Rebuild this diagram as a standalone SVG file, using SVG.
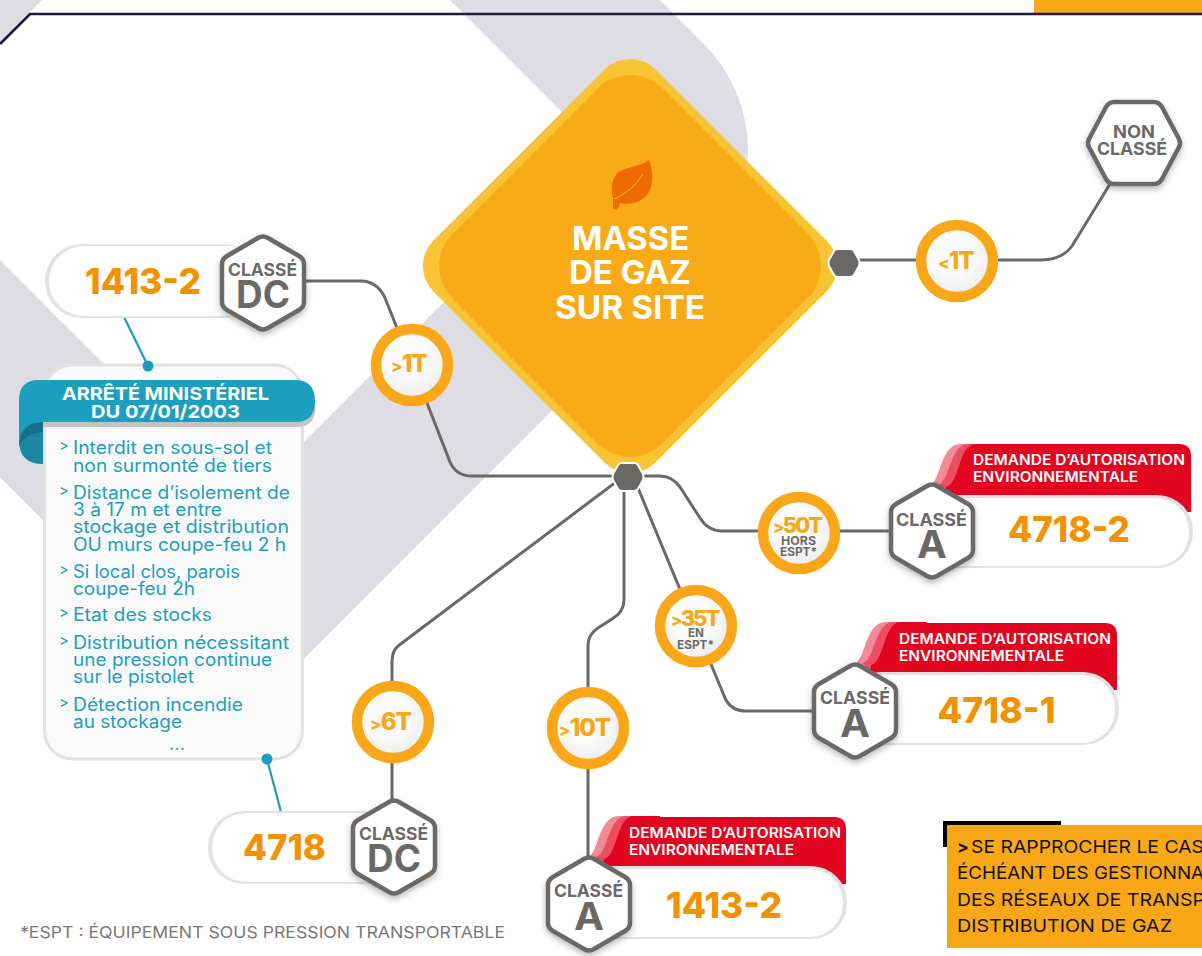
<svg xmlns="http://www.w3.org/2000/svg" width="1202" height="956" viewBox="0 0 1202 956">
<style>
text{font-family:"Inter","Open Sans","Liberation Sans",sans-serif;}
.b{font-weight:700}
.wire{fill:none;stroke:#6b6967;stroke-width:3;stroke-linecap:round;stroke-linejoin:round}
.blue{fill:none;stroke:#1a9dbb;stroke-width:2.2}
.hx{fill:#fff;stroke:#6b6967;stroke-width:4.5;filter:url(#sh)}
.cl{fill:#6b6967;font-weight:700;font-size:17.5px}
.big{fill:#6b6967;font-weight:700;font-size:38px}
.num{fill:#f39200;font-weight:800;font-size:36px}
.ring{fill:url(#disc);stroke:#f9a618;stroke-width:10.5}
.t{fill:#f9a618;font-weight:800;font-size:24px;letter-spacing:-1px}
.t2{fill:#f9a618;font-weight:800;font-size:22px;letter-spacing:-2px}
.gt{font-size:17px}
.s{fill:#6b6967;font-weight:700;font-size:11.5px}
.red{fill:#e30520}
.rt{fill:#fff;font-weight:600;font-size:14px}
.pg{fill:#e2e2e2}
.pw{fill:#fff}
.li{fill:#1c9fbe;font-size:18px;font-weight:400}
.ch{fill:#1c9fbe;font-size:15px;font-weight:400}
.hub{fill:#6b6967;stroke:#fff;stroke-width:2}
.note{fill:#111;font-size:17.5px}
</style>
<defs>
<filter id="sh" x="-30%" y="-30%" width="160%" height="160%"><feDropShadow dx="0" dy="3" stdDeviation="3" flood-color="#000" flood-opacity="0.28"/></filter>
<radialGradient id="disc" cx="0.45" cy="0.4" r="0.7"><stop offset="0.4" stop-color="#fbfbfb"/><stop offset="1" stop-color="#e6e6e6"/></radialGradient>
<path id="hexv" d="M-5 -45Q0 -48 5 -45L36 -27Q41 -24 41 -19L41 19Q41 24 36 27L5 45Q0 48 -5 45L-36 27Q-41 24 -41 19L-41 -19Q-41 -24 -36 -27Z"/>
<path id="hexh" d="M-20 -41L20 -41Q25 -41 28 -36L45 -4Q47 0 45 4L28 36Q25 41 20 41L-20 41Q-25 41 -28 36L-45 4Q-47 0 -45 -4L-28 -36Q-25 -41 -20 -41Z"/>
<path id="hub" d="M-6 -14L6 -14Q9 -14 10 -12L15 -3Q16 0 15 3L10 12Q9 14 6 14L-6 14Q-9 14 -10 12L-15 3Q-16 0 -15 -3L-10 -12Q-9 -14 -6 -14Z"/>
<g id="fold">
<path fill="#f28b97" d="M0 0C8 -6 10 -40 28 -40H70V11H13Z"/>
<path fill="#ee4d5f" d="M6 1C18 -2 18 -40 36 -40H70V11H13Z"/>
<path class="red" d="M14 3C28 0 26 -40 44 -40H70V11H13Z"/>
</g>
</defs>

<g id="background">
<rect width="1202" height="956" fill="#fff"/>
<path fill="#dfdde4" d="M0 260L243 503L598 148L450 0H660L703.500 43.500A152 152 0 0 1 703.500 258.500L285 678Q243 720 201 678L0 477Z"/>
<path fill="#dfdde4" d="M0 0H42L0 42Z"/>
<rect x="1034" y="0" width="168" height="13" fill="#f9a818"/>
<path d="M0 44L30 14H1202" fill="none" stroke="#1d1a3f" stroke-width="2.700"/>
</g>

<g id="node-masse">
<rect x="473" y="109" width="314" height="314" rx="36" fill="#f9c433" transform="rotate(45 630 266)"/>
<rect x="481.500" y="117.500" width="297" height="297" rx="46" fill="#f9ab17" transform="rotate(45 630 266)"/>
<path fill="#ee6a00" d="M649 160C643 166 628 166 619 172C612 177 610 188 613 198L613 209L617 210L620 203C630 206 643 202 649 192C654 184 653 170 649 160Z"/>
<path fill="none" stroke="#f9ab17" stroke-width="1.200" d="M614 199C628 193 637 184 643 174"/>
<text class="b" x="572" y="250" font-size="33" fill="#fff" textLength="117" lengthAdjust="spacingAndGlyphs">MASSE</text>
<text class="b" x="569" y="284" font-size="33" fill="#fff" textLength="122" lengthAdjust="spacingAndGlyphs">DE GAZ</text>
<text class="b" x="555" y="319" font-size="33" fill="#fff" textLength="150" lengthAdjust="spacingAndGlyphs">SUR SITE</text>
</g>

<g id="connectors">
<path class="wire" d="M304 281H362Q380 282 387 303L427 403L450 462Q456 476 472 476H660Q672 476 680 487L700 518Q708 531 722 531H888"/>
<path class="wire" d="M638 488L725 698Q731 711 746 711H815"/>
<path class="wire" d="M624 488V600Q624 612 612 619L598 628Q588 634 588 646V860"/>
<path class="wire" d="M616 482L398 646Q392 651 392 662V800"/>
<path class="wire" d="M844 260H1040Q1062 260 1072 246L1110 184"/>
<path class="blue" d="M124 317L148 366"/>
<path class="blue" d="M267 759L281 812"/>
</g>

<g id="node-hub-right"><use href="#hub" class="hub" x="844" y="263"/></g>
<g id="node-hub-bottom"><use href="#hub" class="hub" x="628" y="477"/></g>

<g id="node-arrete">
<rect x="44.500" y="365" width="258" height="394" rx="28" fill="#fafafa" stroke="#e2e2e2" stroke-width="3"/>
<circle cx="148" cy="366" r="5.500" fill="#1a9dbb"/>
<circle cx="267" cy="759" r="5.500" fill="#1a9dbb"/>
<path fill="#c4c4c4" d="M43 418H296Q315 418 315 402Q318 427 296 427H43Z"/>
<path fill="#1a87a3" d="M43 422V464Q19 464 19 440V422Z"/>
<path fill="#14708a" d="M43 422V432Q24 434 19 446V440Q19 424 43 422Z"/>
<path fill="#1c9fbe" d="M39 380H295Q315 380 315 401Q315 422 295 422H43Q20 422 19 446V400Q19 380 39 380Z"/>
<text class="b" x="62" y="400" font-size="18" fill="#fff" textLength="207" lengthAdjust="spacingAndGlyphs">ARRÊTÉ MINISTÉRIEL</text>
<text class="b" x="91" y="417.500" font-size="18" fill="#fff" textLength="149" lengthAdjust="spacingAndGlyphs">DU 07/01/2003</text>
<text class="ch" x="59" y="451">&gt;</text>
<text class="li" x="73" y="454" textLength="199" lengthAdjust="spacingAndGlyphs">Interdit en sous-sol et</text>
<text class="li" x="73" y="472" textLength="199" lengthAdjust="spacingAndGlyphs">non surmonté de tiers</text>
<text class="ch" x="59" y="496">&gt;</text>
<text class="li" x="73" y="499" textLength="217" lengthAdjust="spacingAndGlyphs">Distance d’isolement de</text>
<text class="li" x="73" y="516" textLength="149" lengthAdjust="spacingAndGlyphs">3 à 17 m et entre</text>
<text class="li" x="73" y="533" textLength="216" lengthAdjust="spacingAndGlyphs">stockage et distribution</text>
<text class="li" x="73" y="551" textLength="213" lengthAdjust="spacingAndGlyphs">OU murs coupe-feu 2 h</text>
<text class="ch" x="59" y="575">&gt;</text>
<text class="li" x="73" y="578" textLength="167" lengthAdjust="spacingAndGlyphs">Si local clos, parois</text>
<text class="li" x="73" y="595" textLength="122" lengthAdjust="spacingAndGlyphs">coupe-feu 2h</text>
<text class="ch" x="59" y="618">&gt;</text>
<text class="li" x="73" y="621" textLength="139" lengthAdjust="spacingAndGlyphs">Etat des stocks</text>
<text class="ch" x="59" y="646">&gt;</text>
<text class="li" x="73" y="649" textLength="216" lengthAdjust="spacingAndGlyphs">Distribution nécessitant</text>
<text class="li" x="73" y="666" textLength="199" lengthAdjust="spacingAndGlyphs">une pression continue</text>
<text class="li" x="73" y="683" textLength="121" lengthAdjust="spacingAndGlyphs">sur le pistolet</text>
<text class="ch" x="59" y="708">&gt;</text>
<text class="li" x="73" y="711" textLength="170" lengthAdjust="spacingAndGlyphs">Détection incendie</text>
<text class="li" x="73" y="728" textLength="109" lengthAdjust="spacingAndGlyphs">au stockage</text>
<text class="li" x="169" y="750" textLength="16">...</text>
</g>

<g id="node-1413-dc">
<rect class="pg" x="45" y="244" width="215" height="74" rx="37"/>
<rect class="pw" x="49" y="246" width="215" height="70" rx="35"/>
<text class="num" x="85" y="294" textLength="116" lengthAdjust="spacingAndGlyphs">1413-2</text>
<use href="#hexv" class="hx" x="263" y="283"/>
<text class="cl" x="228" y="276" textLength="69" lengthAdjust="spacingAndGlyphs">CLASSÉ</text>
<text class="big" x="236" y="308" textLength="54" lengthAdjust="spacingAndGlyphs">DC</text>
</g>

<g id="node-4718-dc">
<rect class="pg" x="208" y="811" width="190" height="73" rx="36"/>
<rect class="pw" x="212" y="813" width="190" height="69" rx="34"/>
<text class="num" x="243" y="860" textLength="83" lengthAdjust="spacingAndGlyphs">4718</text>
<use href="#hexv" class="hx" x="394" y="847"/>
<text class="cl" x="359" y="840" textLength="69" lengthAdjust="spacingAndGlyphs">CLASSÉ</text>
<text class="big" x="367" y="872" textLength="54" lengthAdjust="spacingAndGlyphs">DC</text>
</g>

<g id="node-4718-2">
<path class="red" d="M945 495V512H1191V456Q1191 444 1179 444H960L945 484Z"/>
<use href="#fold" x="932" y="484"/>
<rect class="pg" x="920" y="495" width="273" height="73" rx="36"/>
<rect class="pw" x="920" y="498" width="269" height="68" rx="33"/>
<text class="rt" x="973" y="465" textLength="212" lengthAdjust="spacingAndGlyphs">DEMANDE D’AUTORISATION</text>
<text class="rt" x="973" y="482" textLength="165" lengthAdjust="spacingAndGlyphs">ENVIRONNEMENTALE</text>
<text class="num" x="1008" y="542" textLength="122" lengthAdjust="spacingAndGlyphs">4718-2</text>
<use href="#hexv" class="hx" x="932" y="531"/>
<text class="cl" x="896" y="526" textLength="71" lengthAdjust="spacingAndGlyphs">CLASSÉ</text>
<text class="big" x="917" y="558" textLength="30" lengthAdjust="spacingAndGlyphs">A</text>
</g>

<g id="node-4718-1">
<path class="red" d="M870 672V690H1117V635Q1117 623 1105 623H885L870 662Z"/>
<use href="#fold" x="857" y="662"/>
<rect class="pg" x="845" y="672" width="274" height="73" rx="36"/>
<rect class="pw" x="845" y="675" width="270" height="68" rx="33"/>
<text class="rt" x="899" y="644" textLength="212" lengthAdjust="spacingAndGlyphs">DEMANDE D’AUTORISATION</text>
<text class="rt" x="899" y="661" textLength="165" lengthAdjust="spacingAndGlyphs">ENVIRONNEMENTALE</text>
<text class="num" x="937.500" y="723" textLength="118" lengthAdjust="spacingAndGlyphs">4718-1</text>
<use href="#hexv" class="hx" x="855" y="711"/>
<text class="cl" x="820" y="704" textLength="70" lengthAdjust="spacingAndGlyphs">CLASSÉ</text>
<text class="big" x="840" y="737" textLength="30" lengthAdjust="spacingAndGlyphs">A</text>
</g>

<g id="node-1413-a">
<path class="red" d="M603 866V884H846V829Q846 817 834 817H618L603 856Z"/>
<use href="#fold" x="590" y="856"/>
<rect class="pg" x="578" y="866" width="269" height="73" rx="36"/>
<rect class="pw" x="578" y="869" width="265" height="68" rx="33"/>
<text class="rt" x="629" y="838" textLength="212" lengthAdjust="spacingAndGlyphs">DEMANDE D’AUTORISATION</text>
<text class="rt" x="629" y="855" textLength="165" lengthAdjust="spacingAndGlyphs">ENVIRONNEMENTALE</text>
<text class="num" x="666" y="918" textLength="116" lengthAdjust="spacingAndGlyphs">1413-2</text>
<use href="#hexv" class="hx" x="589" y="904"/>
<text class="cl" x="554" y="897" textLength="69" lengthAdjust="spacingAndGlyphs">CLASSÉ</text>
<text class="big" x="574" y="930" textLength="30" lengthAdjust="spacingAndGlyphs">A</text>
</g>

<g id="node-non-classe">
<use href="#hexh" class="hx" x="1134" y="143"/>
<text class="cl" x="1113" y="138" textLength="42" lengthAdjust="spacingAndGlyphs">NON</text>
<text class="cl" x="1097" y="155" textLength="70" lengthAdjust="spacingAndGlyphs">CLASSÉ</text>
</g>

<g id="node-gt1t"><circle class="ring" cx="412" cy="365" r="36"/>
<text class="t" x="391" y="372"><tspan class="gt">&gt;</tspan>1T</text></g>
<g id="node-lt1t"><circle class="ring" cx="957" cy="261" r="36"/>
<text class="t" x="938" y="269"><tspan class="gt">&lt;</tspan>1T</text></g>
<g id="node-gt50t"><circle class="ring" cx="799" cy="533" r="36"/>
<text class="t2" x="773" y="533"><tspan class="gt">&gt;</tspan>50T</text>
<text class="s" x="781" y="545" textLength="35" lengthAdjust="spacingAndGlyphs">HORS</text>
<text class="s" x="780" y="556" textLength="37" lengthAdjust="spacingAndGlyphs">ESPT*</text></g>
<g id="node-gt35t"><circle class="ring" cx="696" cy="626" r="36"/>
<text class="t2" x="671" y="626"><tspan class="gt">&gt;</tspan>35T</text>
<text class="s" x="688" y="637" textLength="16" lengthAdjust="spacingAndGlyphs">EN</text>
<text class="s" x="677" y="649" textLength="37" lengthAdjust="spacingAndGlyphs">ESPT*</text></g>
<g id="node-gt6t"><circle class="ring" cx="393" cy="722" r="36"/>
<text class="t" x="370" y="730"><tspan class="gt">&gt;</tspan>6T</text></g>
<g id="node-gt10t"><circle class="ring" cx="588" cy="728" r="36"/>
<text class="t" x="559" y="736"><tspan class="gt">&gt;</tspan>10T</text></g>

<g id="footnote">
<text x="20" y="938" font-size="16.500" fill="#7a7877" textLength="485" lengthAdjust="spacingAndGlyphs">*ESPT : ÉQUIPEMENT SOUS PRESSION TRANSPORTABLE</text>
</g>

<g id="node-note">
<rect x="943" y="821" width="118" height="26" fill="#000"/>
<rect x="947" y="825" width="255" height="123" fill="#f8a816"/>
<text class="note" x="957" y="853" font-weight="700" font-size="15">&gt;</text>
<text class="note" x="971" y="853" textLength="233" lengthAdjust="spacingAndGlyphs">SE RAPPROCHER LE CAS</text>
<text class="note" x="957" y="879" textLength="247" lengthAdjust="spacingAndGlyphs">ÉCHÉANT DES GESTIONNA</text>
<text class="note" x="957" y="906" textLength="248" lengthAdjust="spacingAndGlyphs">DES RÉSEAUX DE TRANSP</text>
<text class="note" x="957" y="932" textLength="215" lengthAdjust="spacingAndGlyphs">DISTRIBUTION DE GAZ</text>
</g>
</svg>
